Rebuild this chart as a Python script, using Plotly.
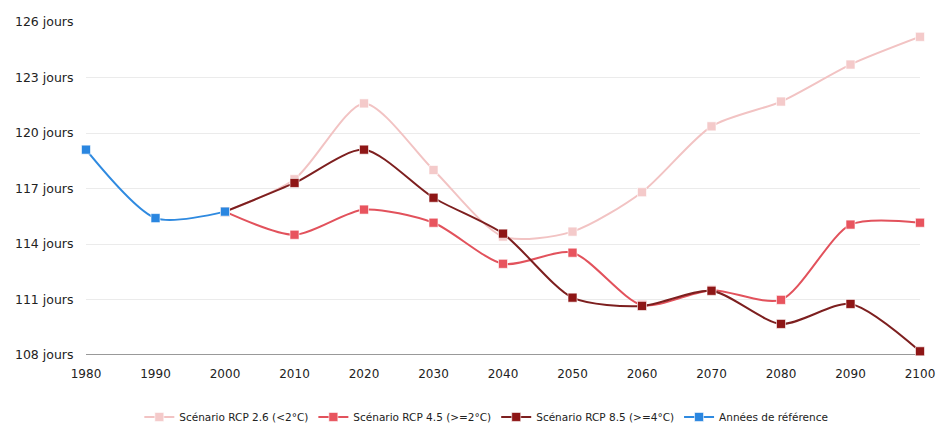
import plotly.graph_objects as go

years_ref = [1980, 1990, 2000]
ref_values = [119.1, 115.4, 115.75]

years_scen = [2000, 2010, 2020, 2030, 2040, 2050, 2060, 2070, 2080, 2090, 2100]
rcp26 = [115.75, 117.5, 121.6, 118.0, 114.4, 114.67, 116.8, 120.36, 121.7, 123.7, 125.2]
rcp45 = [115.75, 114.5, 115.86, 115.15, 112.93, 113.53, 110.7, 111.5, 110.98, 115.05, 115.15]
rcp85 = [115.75, 117.3, 119.1, 116.5, 114.56, 111.1, 110.65, 111.47, 109.68, 110.76, 108.2]

y_ticks = [108, 111, 114, 117, 120, 123, 126]
y_tick_labels = [f"{v} jours" for v in y_ticks]
x_ticks = list(range(1980, 2101, 10))

series = [
    ("Scénario RCP 2.6 (<2°C)", years_scen, rcp26, "#f2c3c3", "#f4caca"),
    ("Scénario RCP 4.5 (>=2°C)", years_scen, rcp45, "#e2525c", "#e8545e"),
    ("Scénario RCP 8.5 (>=4°C)", years_scen, rcp85, "#7d1f1f", "#8e1616"),
    ("Années de référence", years_ref, ref_values, "#2f8ae0", "#2a86e0"),
]

fig = go.Figure()
for name, xs, ys, lc, mc in series:
    fig.add_trace(go.Scatter(
        x=xs, y=ys, name=name, mode="lines+markers",
        line=dict(color=lc, width=2, shape="spline", smoothing=0.75),
        marker=dict(symbol="square", size=9, color=mc,
                    line=dict(color="rgba(255,255,255,0.6)", width=1)),
        cliponaxis=False,
    ))

fig.update_layout(
    width=937, height=427,
    margin=dict(l=86, r=17, t=22, b=72, autoexpand=False),
    paper_bgcolor="white", plot_bgcolor="white",
    font=dict(family="DejaVu Sans", size=12, color="#222222"),
    showlegend=True,
    legend=dict(orientation="h", x=0.48, xanchor="center", y=-0.186, yanchor="middle",
                font=dict(size=10.5, color="#222222"), traceorder="normal",
                itemwidth=30),
    xaxis=dict(range=[1980, 2100], tickvals=x_ticks, showgrid=False,
               showline=False, zeroline=False, ticks="outside", ticklen=8,
               tickcolor="rgba(0,0,0,0)", automargin=False, tickfont=dict(size=12)),
    yaxis=dict(range=[108, 126], tickvals=y_ticks, ticktext=y_tick_labels,
               showgrid=True, gridcolor="#ebebeb", zeroline=False,
               ticks="outside", ticklen=9, tickcolor="rgba(0,0,0,0)",
               showline=False, automargin=False, tickfont=dict(size=12.5)),
)
fig.add_shape(type="line", xref="paper", yref="y", x0=0, x1=1, y0=108, y1=108,
              line=dict(color="#333333", width=1), layer="below")

fig.write_html("out.html", config={"displayModeBar": False},
               post_script="document.body.style.margin='0';document.body.style.overflow='hidden';")
